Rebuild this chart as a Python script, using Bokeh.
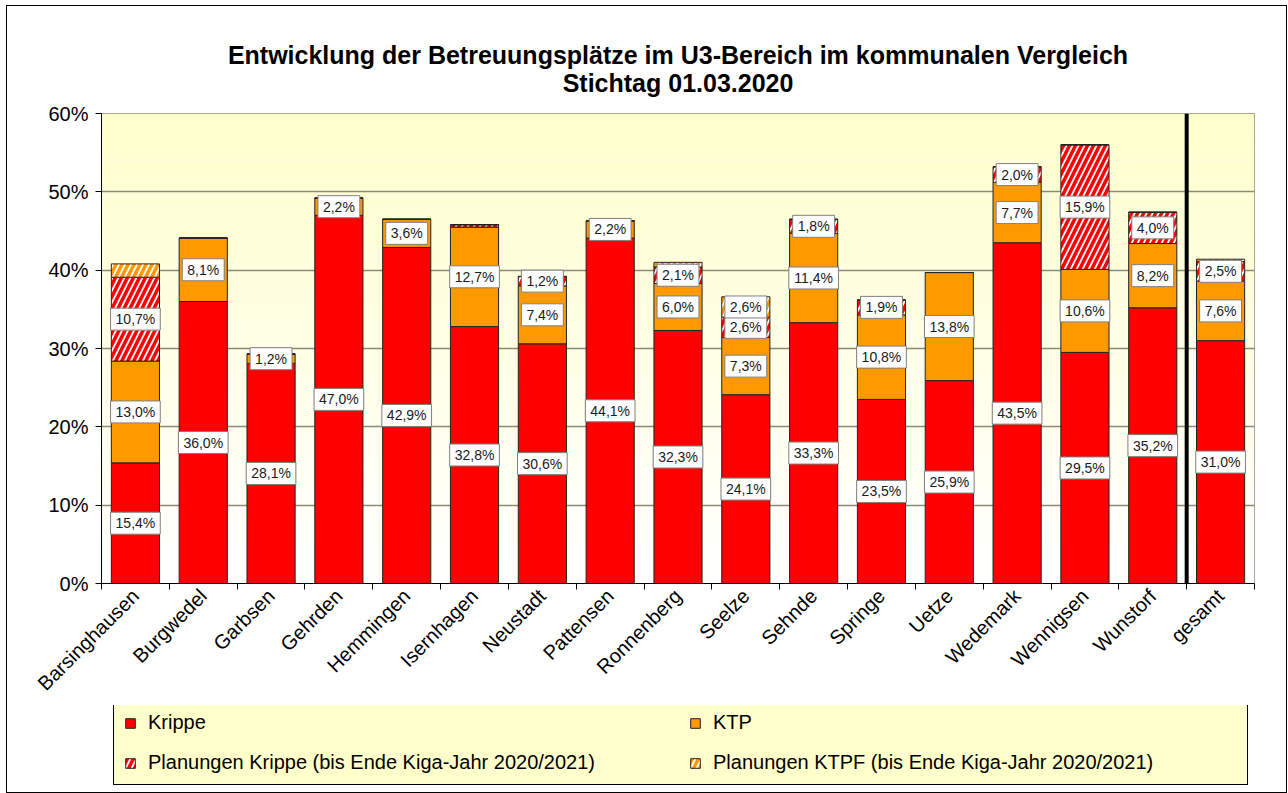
import numpy as np
from bokeh.plotting import figure
from bokeh.layouts import column
from bokeh.models import (ColumnDataSource, Legend, LegendItem, FixedTicker,
                          PrintfTickFormatter, Span, Title, Range1d)
from bokeh.core.properties import value
from bokeh.embed import file_html
from bokeh.resources import INLINE

# ---------------- data ----------------
kommunen = ["Barsinghausen", "Burgwedel", "Garbsen", "Gehrden", "Hemmingen", "Isernhagen",
            "Neustadt", "Pattensen", "Ronnenberg", "Seelze", "Sehnde", "Springe", "Uetze",
            "Wedemark", "Wennigsen", "Wunstorf", "gesamt"]
krippe = [15.4, 36.0, 28.1, 47.0, 42.9, 32.8, 30.6, 44.1, 32.3, 24.1, 33.3, 23.5, 25.9, 43.5, 29.5, 35.2, 31.0]
ktp = [13.0, 8.1, 1.2, 2.2, 3.6, 12.7, 7.4, 2.2, 6.0, 7.3, 11.4, 10.8, 13.8, 7.7, 10.6, 8.2, 7.6]
plan_krippe = [10.7, 0, 0, 0, 0, 0.3, 1.2, 0, 2.1, 2.6, 1.8, 1.9, 0, 2.0, 15.9, 4.0, 2.5]
plan_ktpf = [1.7, 0, 0, 0, 0, 0, 0, 0, 0.6, 2.6, 0, 0, 0, 0, 0, 0, 0.3]
# which planning segments carry a data label in the original
show_plan_krippe = [True, False, False, False, False, False, True, False, True, True, True, True, False, True, True, True, True]
show_plan_ktpf = [False, False, False, False, False, False, False, False, False, True, False, False, False, False, False, False, False]
y_ticks = [0, 10, 20, 30, 40, 50, 60]

title_line1 = "Entwicklung der Betreuungsplätze im U3-Bereich im kommunalen Vergleich"
title_line2 = "Stichtag 01.03.2020"
series_names = ["Krippe", "KTP", "Planungen Krippe (bis Ende Kiga-Jahr 2020/2021)",
                "Planungen KTPF (bis Ende Kiga-Jahr 2020/2021)"]

FONT = "Liberation Sans"
RED = "#FF0000"
ORANGE = "#FF9900"
GRID = "#8a8a78"

n = len(kommunen)
xc = np.arange(n) + 0.5
k = np.array(krippe, dtype=float)
t = np.array(ktp, dtype=float)
pk = np.array(plan_krippe, dtype=float)
pf = np.array(plan_ktpf, dtype=float)
b0 = np.zeros(n)
b1 = b0 + k
b2 = b1 + t
b3 = b2 + pk
b4 = b3 + pf

W = 1279
H1 = 699
H2 = 87

p = figure(width=W, height=H1, output_backend="svg", toolbar_location=None,
           x_range=Range1d(0, n), y_range=Range1d(0, 60),
           min_border_left=94, min_border_right=32, min_border_top=107, min_border_bottom=121,
           background_fill_color="#FFFFFF", border_fill_color="#FFFFFF")
p.title = None
p.outline_line_color = GRID
p.outline_line_width = 1

# background gradient (white at the bottom to pale yellow at the top)
nb = 60
edges = np.linspace(0, 60, nb + 1)
cols = []
for i in range(nb):
    f = (i + 0.5) / nb
    bch = int(round(255 - f * (255 - 204)))
    cols.append("#FFFF%02X" % bch)
bg = p.quad(left=0, right=n, bottom=edges[:-1], top=edges[1:], fill_color=cols, line_color=None)
bg.level = "image"

# bars
bw = 0.71
STY = [dict(fill_color=RED),
       dict(fill_color=ORANGE),
       dict(fill_color="#FFFFFF", hatch_pattern="/", hatch_color=RED, hatch_weight=3.5, hatch_scale=12),
       dict(fill_color="#FFFFFF", hatch_pattern="/", hatch_color=ORANGE, hatch_weight=3.5, hatch_scale=12)]
src = ColumnDataSource(dict(x=xc, b0=b0, b1=b1, b2=b2, b3=b3, b4=b4))
bounds = [("b0", "b1"), ("b1", "b2"), ("b2", "b3"), ("b3", "b4")]
for (lo, hi), st in zip(bounds, STY):
    p.vbar(x="x", width=bw, bottom=lo, top=hi, source=src, line_color="#222222", line_width=1, **st)

# data labels (white boxes with grey border)
def fmt(v):
    return ("%.1f" % v).replace(".", ",") + "%"

CW = {",": 0.278, "%": 0.889}
LFS = 14

def box_w(s):
    return sum(CW.get(c, 0.556) for c in s) * LFS + 10

lx, ly, lt = [], [], []
for i in range(n):
    lx.append(xc[i]); ly.append((b0[i] + b1[i]) / 2); lt.append(fmt(k[i]))
    lx.append(xc[i]); ly.append((b1[i] + b2[i]) / 2); lt.append(fmt(t[i]))
    if show_plan_krippe[i]:
        lx.append(xc[i]); ly.append((b2[i] + b3[i]) / 2); lt.append(fmt(pk[i]))
    if show_plan_ktpf[i]:
        lx.append(xc[i]); ly.append((b3[i] + b4[i]) / 2); lt.append(fmt(pf[i]))
lsrc = ColumnDataSource(dict(x=lx, y=ly, text=lt, w=[box_w(s) for s in lt]))
p.rect(x="x", y="y", width="w", height=22, width_units="screen", height_units="screen",
       source=lsrc, fill_color="#FFFFFF", line_color="#7f7f7f", line_width=1)
p.text(x="x", y="y", text="text", source=lsrc, text_align="center", text_baseline="middle",
       text_font=value(FONT), text_font_size=value("%dpx" % LFS), text_color="#1a1a1a")

# separator before "gesamt"
p.add_layout(Span(location=n - 1, dimension="height", line_color="#000000", line_width=4))

# axes
p.xgrid.grid_line_color = None
p.ygrid.grid_line_color = GRID
p.ygrid.grid_line_width = 1.5
p.ygrid.ticker = FixedTicker(ticks=y_ticks)

ya = p.yaxis[0]
ya.ticker = FixedTicker(ticks=y_ticks)
ya.formatter = PrintfTickFormatter(format="%d%%")
ya.major_label_text_font = FONT
ya.major_label_text_font_size = "20px"
ya.major_label_text_color = "#000000"
ya.axis_line_color = "#000000"
ya.major_tick_line_color = "#000000"
ya.major_tick_out = 6
ya.major_tick_in = 0
ya.minor_tick_line_color = None
ya.major_label_standoff = 7

xa = p.xaxis[0]
xa.ticker = FixedTicker(ticks=list(xc), minor_ticks=list(range(n + 1)))
xa.major_label_overrides = {float(xc[i]): kommunen[i] for i in range(n)}
xa.major_label_orientation = np.pi / 4
xa.major_label_text_font = FONT
xa.major_label_text_font_size = "20px"
xa.major_label_text_color = "#000000"
xa.axis_line_color = "#000000"
xa.major_tick_line_color = None
xa.major_tick_out = 6
xa.major_tick_in = 0
xa.minor_tick_line_color = "#000000"
xa.minor_tick_out = 6
xa.minor_tick_in = 0
xa.major_label_standoff = 3

# title (two centred lines)
tkw = dict(align="center", text_font=FONT, text_font_size="25px", text_font_style="bold",
           text_color="#000000", text_line_height=1.0, standoff=34)
try:
    ttl = Title(text=title_line1 + "\n" + title_line2, text_align="center", **tkw)
    p.add_layout(ttl, "above")
except Exception:
    tkw["standoff"] = 26
    p.add_layout(Title(text=title_line2, **tkw), "above")
    tkw["standoff"] = 0
    p.add_layout(Title(text=title_line1, **tkw), "above")

# legend in its own strip below the chart (frame aligned with the chart frame)
q = figure(width=W, height=H2, output_backend="svg", toolbar_location=None,
           x_range=Range1d(1000, 1001), y_range=Range1d(1000, 1001),
           min_border_left=94, min_border_right=32, min_border_top=0, min_border_bottom=0,
           background_fill_color="#FFFFFF", border_fill_color="#FFFFFF")
q.axis.visible = False
q.grid.visible = False
q.outline_line_color = None
lrs = [q.vbar(x="x", width=bw, bottom=lo, top=hi, source=src, line_color="#222222", line_width=1, **st)
       for (lo, hi), st in zip(bounds, STY)]
legend = Legend(items=[LegendItem(label=nm, renderers=[r]) for nm, r in zip(series_names, lrs)],
                orientation="horizontal", ncols=2, location=(12, 7), margin=0,
                label_text_font=FONT, label_text_font_size="20px", label_text_color="#000000",
                glyph_width=12, glyph_height=12, label_standoff=12, label_width=524,
                label_height=22, spacing=17, padding=10,
                background_fill_color="#FFFFCC", background_fill_alpha=1,
                border_line_color="#000000", border_line_width=1, border_line_alpha=1)
q.add_layout(legend)

layout = column(p, q, spacing=0)
layout.styles = {"border": "1px solid #000000", "margin-left": "6px", "margin-top": "5px"}

open("out.html", "w").write(file_html(layout, INLINE))
